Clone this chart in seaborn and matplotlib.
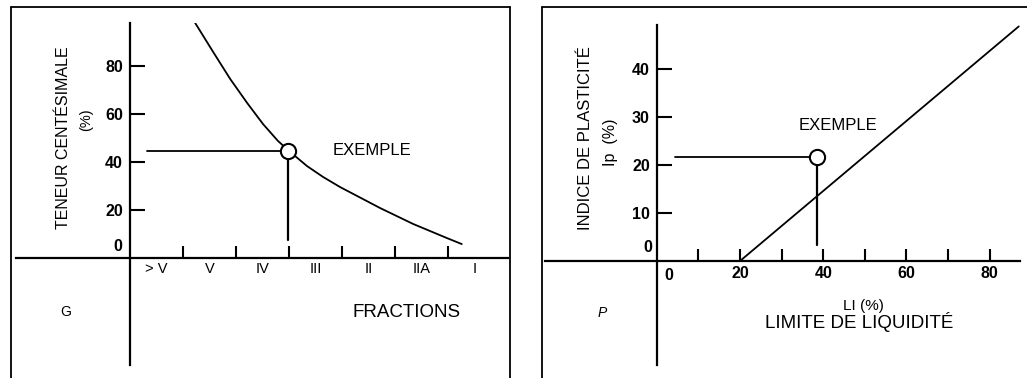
import matplotlib
matplotlib.use("Agg")
from matplotlib import pyplot as plt
from matplotlib.lines import Line2D
import pandas as pd
import seaborn as sns

# G : courbe des fractions (position sur l'axe des fractions, teneur %)
curve_x = [1.23, 1.57, 1.89, 2.21, 2.51, 2.79, 3.0, 3.34, 3.64, 3.96, 4.72, 5.34, 5.98, 6.26]
curve_y = [97.9, 85.8, 74.6, 64.6, 55.8, 48.8, 44.6, 38.3, 33.8, 29.6, 20.8, 14.2, 8.3, 5.8]
fractions = ['> V', 'V', 'IV', 'III', 'II', 'IIA', 'I']
teneur_ticks = [20, 40, 60, 80]
ex_g_x, ex_g_y = 2.99, 44.6
ex_g_from_x, ex_g_to_y = 0.32, 7.5

# P : abaque de plasticite (ligne A)
ligne_li = [20, 87]
ligne_ip = [0, 48.9]
li_ticks = [10, 20, 30, 40, 50, 60, 70, 80]
li_labels = ['', '20', '', '40', '', '60', '', '80']
ip_ticks = [10, 20, 30, 40]
ex_p_x, ex_p_y = 38.5, 21.7
ex_p_from_x, ex_p_to_y = 4.3, 3.3

W, H = 1027, 378
sns.set_style("white")
plt.rcParams['font.family'] = ['Liberation Sans', 'DejaVu Sans']
plt.rcParams['text.color'] = 'black'
plt.rcParams['xtick.color'] = 'black'
plt.rcParams['ytick.color'] = 'black'

fig = plt.figure(figsize=(W / 100, H / 100), dpi=100)
fig.patch.set_facecolor('white')


def px_axes(x0, y0, x1, y1):
    # y0 = haut, y1 = bas (pixels)
    return fig.add_axes([x0 / W, 1 - y1 / H, (x1 - x0) / W, (y1 - y0) / H])


def setup(ax):
    ax.set_facecolor('none')
    for s in ['top', 'right']:
        ax.spines[s].set_visible(False)
    for s in ['left', 'bottom']:
        ax.spines[s].set_position(('data', 0))
        ax.spines[s].set_linewidth(1.6)
        ax.spines[s].set_color('black')
    ax.set_xlabel('')
    ax.set_ylabel('')
    ax.tick_params(bottom=True, left=True, labelcolor='black')


lw = 1.3
tfs = 11.5  # taille des graduations

# ---------------- G ----------------
ax1 = px_axes(16, 23, 508, 365)
df_g = pd.DataFrame({'x': curve_x, 'y': curve_y})
sns.lineplot(ax=ax1, data=df_g, x='x', y='y', color='black', lw=lw)
ax1.plot([ex_g_from_x, ex_g_x], [ex_g_y, ex_g_y], color='black', lw=lw)
ax1.plot([ex_g_x, ex_g_x], [ex_g_y, ex_g_to_y], color='black', lw=1.6)
sns.scatterplot(ax=ax1, x=[ex_g_x], y=[ex_g_y], s=120, facecolor='white',
                edgecolor='black', linewidth=1.5, zorder=5)
ax1.set_xlim(-2.151, 7.132)
ax1.set_ylim(-44.58, 97.9)
setup(ax1)
ax1.set_xticks(range(1, 7))
ax1.set_xticklabels([])
ax1.set_xticks([i + 0.5 for i in range(len(fractions))], minor=True)
ax1.set_xticklabels(fractions, minor=True, fontsize=10.5)
ax1.tick_params(axis='x', which='major', direction='in', length=9, width=1.5)
ax1.tick_params(axis='x', which='minor', length=0, pad=3)
ax1.set_yticks(teneur_ticks)
ax1.set_yticklabels([str(t) for t in teneur_ticks], fontsize=tfs, fontweight='bold')
ax1.tick_params(axis='y', direction='in', length=11, width=1.5, pad=5)
ax1.text(-0.14, 1.5, '0', ha='right', va='bottom', fontsize=tfs, fontweight='bold')
ax1.text(3.82, ex_g_y, 'EXEMPLE', ha='left', va='center', fontsize=12)
ax1.text(5.21, -22.5, 'FRACTIONS', ha='center', va='center', fontsize=13.5)
ax1.text(-1.22, -22.5, 'G', ha='center', va='center', fontsize=10)
fig.text(63 / W, 1 - 138 / H, 'TENEUR CENTÉSIMALE', rotation=90,
         ha='center', va='center', fontsize=11.5)
fig.text(86 / W, 1 - 120 / H, '(%)', rotation=90, ha='center', va='center', fontsize=10.5)

# ---------------- P ----------------
ax2 = px_axes(545, 25, 1020, 365)
df_p = pd.DataFrame({'li': ligne_li, 'ip': ligne_ip})
sns.lineplot(ax=ax2, data=df_p, x='li', y='ip', color='black', lw=lw)
ax2.plot([ex_p_from_x, ex_p_x], [ex_p_y, ex_p_y], color='black', lw=lw)
ax2.plot([ex_p_x, ex_p_x], [ex_p_y, ex_p_to_y], color='black', lw=1.6)
sns.scatterplot(ax=ax2, x=[ex_p_x], y=[ex_p_y], s=120, facecolor='white',
                edgecolor='black', linewidth=1.5, zorder=5)
ax2.set_xlim(-26.9, 87.3)
ax2.set_ylim(-21.7, 49.2)
setup(ax2)
ax2.set_xticks(li_ticks)
ax2.set_xticklabels(li_labels, fontsize=tfs, fontweight='bold')
ax2.tick_params(axis='x', direction='in', length=9, width=1.5, pad=4)
ax2.set_yticks(ip_ticks)
ax2.set_yticklabels([str(t) for t in ip_ticks], fontsize=tfs, fontweight='bold')
ax2.tick_params(axis='y', direction='in', length=11, width=1.5, pad=5)
ax2.text(-1.2, 1.2, '0', ha='right', va='bottom', fontsize=tfs, fontweight='bold')
ax2.text(2.9, -1.4, '0', ha='center', va='top', fontsize=tfs, fontweight='bold')
ax2.text(34, 28.2, 'EXEMPLE', ha='left', va='center', fontsize=12)
ax2.text(49.6, -9.3, 'LI (%)', ha='center', va='center', fontsize=11)
ax2.text(48.6, -12.8, 'LIMITE DE LIQUIDITÉ', ha='center', va='center', fontsize=13.5)
ax2.text(-13.1, -10.8, 'P', ha='center', va='center', fontsize=10, fontstyle='italic')
fig.text(585 / W, 1 - 138 / H, 'INDICE DE PLASTICITÉ', rotation=90,
         ha='center', va='center', fontsize=12)
fig.text(610 / W, 1 - 142 / H, 'Ip  (%)', rotation=90, ha='center', va='center', fontsize=11.5)

# cadres
frame_top = 1 - 7 / H
for xs, ys in [([11 / W, 510 / W], [frame_top, frame_top]),
               ([11 / W, 11 / W], [0, frame_top]),
               ([510 / W, 510 / W], [0, frame_top]),
               ([542 / W, 1.0], [frame_top, frame_top]),
               ([542 / W, 542 / W], [0, frame_top])]:
    fig.add_artist(Line2D(xs, ys, transform=fig.transFigure, color='black', lw=1.3))

fig.savefig('out.png', dpi=100)
